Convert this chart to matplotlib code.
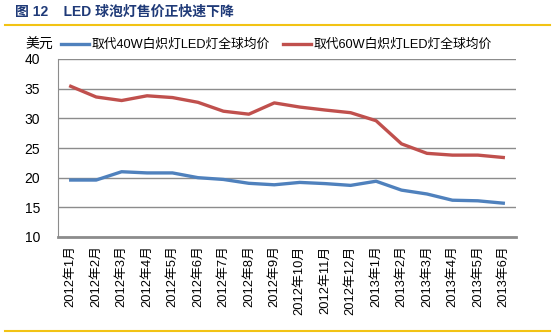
import matplotlib.pyplot as plt
from matplotlib.lines import Line2D

plt.rcParams['font.family'] = ['Liberation Sans', 'Noto Sans CJK SC', 'DejaVu Sans']

months = ['2012年1月', '2012年2月', '2012年3月', '2012年4月', '2012年5月', '2012年6月',
          '2012年7月', '2012年8月', '2012年9月', '2012年10月', '2012年11月', '2012年12月',
          '2013年1月', '2013年2月', '2013年3月', '2013年4月', '2013年5月', '2013年6月']
price_40w = [19.6, 19.6, 21.0, 20.8, 20.8, 20.0, 19.7, 19.05, 18.8,
             19.2, 19.0, 18.7, 19.4, 17.9, 17.25, 16.2, 16.1, 15.7]
price_60w = [35.4, 33.6, 33.0, 33.8, 33.5, 32.7, 31.2, 30.7, 32.6,
             31.9, 31.4, 30.95, 29.6, 25.7, 24.1, 23.8, 23.8, 23.4]
label_40w = '取代40W白炽灯LED灯全球均价'
label_60w = '取代60W白炽灯LED灯全球均价'

W, H = 555, 336
fig = plt.figure(figsize=(W / 100, H / 100), dpi=100)

# 顶部标题与黄色分隔线
fig.text(15 / W, 1 - 12 / H, '图 12    LED 球泡灯售价正快速下降', fontsize=10,
         fontweight='bold', color='#1F3A78', va='center', ha='left')
fig.add_artist(Line2D([5 / W, 550 / W], [1 - 25 / H] * 2, color='#F2C314', lw=1.5))
fig.add_artist(Line2D([5 / W, 550 / W], [1 - 331 / H] * 2, color='#F2C314', lw=1.5))

ax = fig.add_axes([58 / W, 1 - 237 / H, 458 / W, 178 / H])
x = range(len(months))
ax.plot(x, price_40w, color='#4F81BD', lw=2.4, label=label_40w)
ax.plot(x, price_60w, color='#C0504D', lw=2.4, label=label_60w)

ax.set_xlim(-0.5, len(months) - 0.5)
ax.set_ylim(10, 40)
ax.set_yticks(range(10, 41, 5))
ax.set_xticks(list(x))
ax.set_xticklabels(months, rotation=90, fontsize=9.3)
ax.tick_params(axis='y', length=0, labelsize=10, pad=13)
ax.tick_params(axis='x', length=0, pad=6)
ax.grid(axis='y', color='#8C8C8C', lw=1)
ax.set_axisbelow(True)
for s in ['top', 'right']:
    ax.spines[s].set_visible(False)
ax.spines['left'].set_color('#8C8C8C')
ax.spines['bottom'].set_color('#8C8C8C')
ax.spines['bottom'].set_linewidth(2)

fig.text(25 / W, 1 - 45 / H, '美元', fontsize=10, va='center', ha='left')
ax.legend(loc='center left', bbox_to_anchor=(61 / W, 1 - 45 / H),
          bbox_transform=fig.transFigure, ncol=2, frameon=False, fontsize=9.2,
          handlelength=2.2, handletextpad=0.2, columnspacing=1.0,
          borderpad=0, borderaxespad=0)

fig.savefig('out.png', dpi=100)
